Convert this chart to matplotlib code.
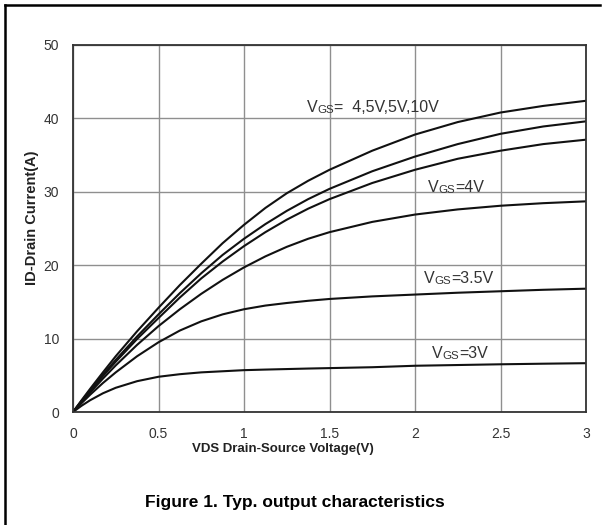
import matplotlib
matplotlib.use("Agg")
import matplotlib.pyplot as plt
from matplotlib.lines import Line2D

plt.rcParams['font.family'] = ['Liberation Sans', 'DejaVu Sans']

# VDS (V) sample points
vds = [0, 0.05, 0.1, 0.175, 0.25, 0.375, 0.5, 0.625, 0.75, 0.875, 1.0, 1.125,
       1.25, 1.375, 1.5, 1.75, 2.0, 2.25, 2.5, 2.75, 3.0]

# ID (A) for each gate voltage
id_10v = [0, 1.6, 3.15, 5.4, 7.6, 11.0, 14.2, 17.3, 20.2, 23.0, 25.5, 27.8,
          29.8, 31.5, 33.0, 35.6, 37.8, 39.5, 40.8, 41.7, 42.4]
id_5v = [0, 1.5, 2.95, 5.1, 7.1, 10.3, 13.3, 16.2, 18.9, 21.4, 23.6, 25.6,
         27.4, 29.0, 30.4, 32.8, 34.8, 36.5, 37.9, 38.9, 39.6]
id_45v = [0, 1.45, 2.85, 4.9, 6.85, 9.95, 12.8, 15.6, 18.2, 20.5, 22.6, 24.5,
          26.2, 27.7, 29.0, 31.2, 33.0, 34.5, 35.6, 36.5, 37.1]
id_4v = [0, 1.35, 2.65, 4.55, 6.35, 9.15, 11.7, 14.0, 16.1, 18.0, 19.7, 21.2,
         22.5, 23.6, 24.5, 25.9, 26.9, 27.6, 28.1, 28.45, 28.7]
id_35v = [0, 1.2, 2.35, 3.95, 5.4, 7.6, 9.5, 11.1, 12.35, 13.3, 14.0, 14.5,
          14.85, 15.15, 15.4, 15.75, 16.0, 16.25, 16.45, 16.65, 16.8]
id_3v = [0, 0.85, 1.6, 2.55, 3.3, 4.2, 4.8, 5.15, 5.4, 5.55, 5.7, 5.78,
         5.85, 5.92, 5.98, 6.1, 6.3, 6.4, 6.5, 6.58, 6.65]

curves = [id_10v, id_5v, id_45v, id_4v, id_35v, id_3v]

x_ticks = [0, 0.5, 1, 1.5, 2, 2.5, 3]
y_ticks = [0, 10, 20, 30, 40, 50]

W, H = 605, 525
fig = plt.figure(figsize=(W / 100, H / 100), dpi=100)
ax = fig.add_axes([73 / W, 1 - 412 / H, (586 - 73) / W, (412 - 45) / H])

for c in curves:
    ax.plot(vds, c, color='#111111', lw=1.5, solid_joinstyle='round')

ax.set_xlim(0, 3)
ax.set_ylim(0, 50)
ax.set_xticks(x_ticks)
ax.set_yticks(y_ticks)
ax.set_xticklabels(['%g' % v for v in x_ticks])
ax.set_yticklabels(['%g' % v for v in y_ticks])
ax.tick_params(length=0, labelsize=10, colors='#333333')
ax.tick_params(axis='x', pad=11)
ax.tick_params(axis='y', pad=10)
ax.grid(True, color='#8f8f8f', lw=1.0)
ax.set_axisbelow(True)
for s in ax.spines.values():
    s.set_color('#333333')
    s.set_linewidth(1.3)


def vgs_label(x, y, rest, size=11.5):
    t1 = ax.text(x, y, 'V', fontsize=size, color='#333333', va='bottom', ha='left')
    t2 = ax.annotate('GS', xy=(1, 0), xycoords=t1, fontsize=size * 0.72,
                     color='#333333', va='bottom', ha='left')
    ax.annotate(rest, xy=(1, 0), xycoords=(t2, t1), fontsize=size,
                color='#333333', va='bottom', ha='left')


vgs_label(1.368, 40.4, '=  4,5V,5V,10V')
vgs_label(2.074, 29.5, '=4V')
vgs_label(2.053, 17.2, '=3.5V')
vgs_label(2.098, 6.9, '=3V')

fig.text(283 / W, 1 - 449 / H, 'VDS Drain-Source Voltage(V)', fontsize=9.5,
         fontweight='bold', ha='center', va='center', color='#222222')
fig.text(32 / W, 1 - 218 / H, 'ID-Drain Current(A)', fontsize=10.5,
         fontweight='bold', ha='center', va='center', rotation=90, color='#222222')
fig.text(295 / W, 1 - 502 / H, 'Figure 1. Typ. output characteristics',
         fontsize=12.5, fontweight='bold', ha='center', va='center', color='black')

# frame of the figure box (top and left edges)
fig.add_artist(Line2D([4.5 / W, 4.5 / W], [0, 1 - 4.5 / H], color='black', lw=1.8,
                      transform=fig.transFigure))
fig.add_artist(Line2D([4.5 / W, 600 / W], [1 - 4.5 / H, 1 - 4.5 / H], color='black',
                      lw=1.8, transform=fig.transFigure))

fig.savefig('out.png', dpi=100)
